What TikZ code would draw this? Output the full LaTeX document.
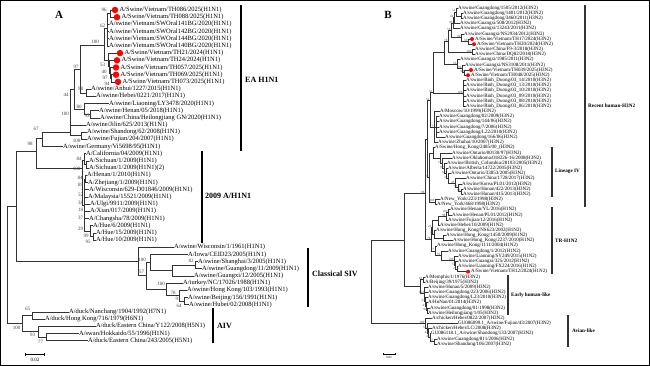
\documentclass[tikz,border=0pt]{standalone}
\usepackage{fontspec}
\setmainfont{Liberation Serif}
\usetikzlibrary{arrows.meta, positioning}

\begin{document}
\begin{tikzpicture}[
    x=1pt, y=-1pt,
    leaf/.style={anchor=west, inner sep=0pt, font=\fontsize{6.5}{7}\selectfont},
    leafb/.style={anchor=west, inner sep=0pt, font=\fontsize{5}{5}\selectfont},
    vdot/.style={circle, fill=red, inner sep=0pt, minimum size=6.5pt},
    vdotb/.style={circle, fill=red, inner sep=0pt, minimum size=4pt},
    bs/.style={inner sep=0pt, font=\fontsize{5}{5}\selectfont, text=black!75},
    bsb/.style={inner sep=0pt, yshift=1pt, font=\fontsize{3.2}{3.2}\selectfont, text=black!75},
    br/.style={draw=black!80, line width=0.7pt},
    brb/.style={draw=black!80, line width=0.45pt},
    clade/.style={draw=black, line width=1.6pt},
    cladeb/.style={draw=black!80, line width=1.1pt},
    cladelbl/.style={anchor=west, inner sep=0pt, font=\fontsize{8}{9}\selectfont\bfseries},
    cladelblb/.style={anchor=west, inner sep=0pt, font=\fontsize{5.2}{6}\selectfont\bfseries},
    panel/.style={inner sep=0pt, font=\fontsize{11}{12}\selectfont\bfseries}
]
    \useasboundingbox (0,0) rectangle (650,366);
    \draw[line width=0.8pt] (0.5,0.5) rectangle (649.5,365.5);

    % ---------- panel A ----------
    \node[panel] (pA) at (59,15) {A};

    % EA H1N1 leaves
    \node[vdot] (d1) at (115,10) {};
    \node[leaf, right=1pt of d1] (l1) {A/Swine/Vietnam/TH086/2025(H1N1)};
    \node[vdot] (d2) at (117,17.2) {};
    \node[leaf, right=1pt of d2] (l2) {A/Swine/Vietnam/TH088/2025(H1N1)};
    \node[leaf] (l3) at (109,24.4) {A/swine/Vietnam/SWOral141BG/2020(H1N1)};
    \node[leaf] (l4) at (109,31.6) {A/swine/Vietnam/SWOral142BG/2020(H1N1)};
    \node[leaf] (l5) at (109,38.8) {A/swine/Vietnam/SWOral144BG/2020(H1N1)};
    \node[leaf] (l6) at (109,46.0) {A/swine/Vietnam/SWOral140BG/2020(H1N1)};
    \node[vdot] (d7) at (120,53.1) {};
    \node[leaf, right=1pt of d7] (l7) {A/Swine/Vietnam/TH21/2024(H1N1)};
    \node[vdot] (d8) at (117,60.3) {};
    \node[leaf, right=1pt of d8] (l8) {A/Swine/Vietnam/TH24/2024(H1N1)};
    \node[vdot] (d9) at (116,67.5) {};
    \node[leaf, right=1pt of d9] (l9) {A/Swine/Vietnam/TH057/2025(H1N1)};
    \node[vdot] (d10) at (116,74.7) {};
    \node[leaf, right=1pt of d10] (l10) {A/Swine/Vietnam/TH069/2025(H1N1)};
    \node[vdot] (d11) at (118,81.9) {};
    \node[leaf, right=1pt of d11] (l11) {A/Swine/Vietnam/TH073/2025(H1N1)};
    \node[leaf] (l12) at (91,89.1) {A/swine/Anhui/1227/2015(H1N1)};
    \node[leaf] (l13) at (96,96.3) {A/swine/Hebei/0221/2017(H1N1)};
    \node[leaf] (l14) at (109,103.5) {A/swine/Liaoning/LY3478/2020(H1N1)};
    \node[leaf] (l15) at (99,110.7) {A/swine/Henan/05/2018(H1N1)};
    \node[leaf] (l16) at (100,117.9) {A/swine/China/Heilongjiang GN/2020(H1N1)};
    \node[leaf] (l17) at (86,125.0) {A/swine/Jilin/625/2013(H1N1)};
    \node[leaf] (l18) at (87,132.2) {A/swine/Shandong/62/2008(H1N1)};
    \node[leaf] (l19) at (87,139.4) {A/swine/Fujian/204/2007(H1N1)};
    \node[leaf] (l20) at (63,146.6) {A/swine/Germany/Vi5698/95(H1N1)};

    % 2009 A/H1N1 leaves
    \node[leaf] (l21) at (86,153.8) {A/California/04/2009(H1N1)};
    \node[leaf] (l22) at (89,161.0) {A/Sichuan/1/2009(H1N1)};
    \node[leaf] (l23) at (89,168.2) {A/Sichuan/1/2009(H1N1)(2)};
    \node[leaf] (l24) at (87,175.4) {A/Henan/1/2010(H1N1)};
    \node[leaf] (l25) at (88,182.6) {A/Zhejiang/1/2009(H1N1)};
    \node[leaf] (l26) at (89,189.8) {A/Wisconsin/629-D01846/2009(H1N1)};
    \node[leaf] (l27) at (88,196.9) {A/Malaysia/15521/2009(H1N1)};
    \node[leaf] (l28) at (90,204.1) {A/Ulgi/9911/2009(H1N1)};
    \node[leaf] (l29) at (90,211.3) {A/Xian/017/2009(H1N1)};
    \node[leaf] (l30) at (89,218.5) {A/Changsha/78/2009(H1N1)};
    \node[leaf] (l31) at (93,225.7) {A/Hue/6/2009(H1N1)};
    \node[leaf] (l32) at (96,232.9) {A/Hue/15/2009(H1N1)};
    \node[leaf] (l33) at (96,240.1) {A/Hue/10/2009(H1N1)};

    % classical SIV leaves
    \node[leaf] (l34) at (174,247.3) {A/swine/Wisconsin/1/1961(H1N1)};
    \node[leaf] (l35) at (188,254.5) {A/Iowa/CEID23/2005(H1N1)};
    \node[leaf] (l36) at (198,261.7) {A/swine/Shanghai/3/2005(H1N1)};
    \node[leaf] (l37) at (202,268.8) {A/swine/Guangdong/11/2009(H1N1)};
    \node[leaf] (l38) at (194,276.0) {A/swine/Guangxi/12/2005(H1N1)};
    \node[leaf] (l39) at (183,283.2) {A/turkey/NC/17026/1988(H1N1)};
    \node[leaf] (l40) at (187,290.4) {A/swine/Hong Kong/103/1993(H1N1)};
    \node[leaf] (l41) at (188,297.6) {A/swine/Beijing/156/1991(H1N1)};
    \node[leaf] (l42) at (189,304.8) {A/swine/Hubei/02/2008(H1N1)};

    % AIV leaves
    \node[leaf] (l43) at (69,312.0) {A/duck/Nanchang/1904/1992(H7N1)};
    \node[leaf] (l44) at (45,319.2) {A/duck/Hong Kong/716/1979(H6N1)};
    \node[leaf] (l45) at (96,326.4) {A/duck/Eastern China/Y122/2008(H5N1)};
    \node[leaf] (l46) at (79,333.6) {A/swan/Hokkaido/55/1996(H1N1)};
    \node[leaf] (l47) at (88,340.7) {A/duck/Eastern China/243/2005(H5N1)};

    % internal nodes A
    \coordinate (v12) at (110,13.6);
    \coordinate (v62) at (107.5,28);
    \coordinate (vb1) at (111.5,78.3);
    \coordinate (vb2) at (110.5,72.9);
    \coordinate (vb3) at (109.5,66.6);
    \coordinate (vb4) at (108.5,59.9);
    \coordinate (vA) at (104,45);
    \coordinate (n98a) at (86,93.4);
    \coordinate (n97) at (80,69);
    \coordinate (n93) at (90,114.3);
    \coordinate (n80) at (84,109);
    \coordinate (n44) at (74,89);
    \coordinate (n100c) at (81,135.8);
    \coordinate (nEA) at (70,132);
    \coordinate (n67) at (42,138);
    \coordinate (h1) at (86.5,164.6);
    \coordinate (h2) at (84.5,160);
    \coordinate (hz) at (85.5,179);
    \coordinate (hue2) at (93,236.5);
    \coordinate (hue1) at (90,231);
    \coordinate (h3) at (84,205);
    \coordinate (n2009) at (82,168);
    \coordinate (n98) at (36,151);
    \coordinate (nc82) at (195,265.2);
    \coordinate (nc3) at (172,270);
    \coordinate (nc100a) at (150,262);
    \coordinate (n64) at (184,301.2);
    \coordinate (n91) at (179,295.5);
    \coordinate (n100t) at (166,289);
    \coordinate (nc57) at (146,275);
    \coordinate (nCl) at (138,261.3);
    \coordinate (n65) at (32,315.6);
    \coordinate (n77) at (46,337.2);
    \coordinate (n93b) at (38,331);
    \coordinate (nAIV) at (22,323.4);
    \coordinate (nTop) at (16,206);
    \coordinate (nRoot) at (7,265);

    % branches A
    \draw[br] (v12) |- (d1) (v12) |- (d2);
    \draw[br] (v62) |- (v12) (v62) |- (l3) (v62) |- (l4) (v62) |- (l5) (v62) |- (l6);
    \draw[br] (vb1) |- (d10) (vb1) |- (d11);
    \draw[br] (vb2) |- (d9) (vb2) |- (vb1);
    \draw[br] (vb3) |- (d8) (vb3) |- (vb2);
    \draw[br] (vb4) |- (d7) (vb4) |- (vb3);
    \draw[br] (vA) |- (v62) (vA) |- (vb4);
    \draw[br] (n98a) |- (l12) (n98a) |- (l13);
    \draw[br] (n97) |- (vA) (n97) |- (n98a);
    \draw[br] (n93) |- (l15) (n93) |- (l16);
    \draw[br] (n80) |- (l14) (n80) |- (n93);
    \draw[br] (n44) |- (n97) (n44) |- (n80);
    \draw[br] (n100c) |- (l18) (n100c) |- (l19);
    \draw[br] (nEA) |- (n44) (nEA) |- (l17) (nEA) |- (n100c);
    \draw[br] (n67) |- (nEA) (n67) |- (l20);
    \draw[br] (h1) |- (l22) (h1) |- (l23);
    \draw[br] (h2) |- (l21) (h2) |- (h1);
    \draw[br] (hz) |- (l24) (hz) |- (l25);
    \draw[br] (hue2) |- (l32) (hue2) |- (l33);
    \draw[br] (hue1) |- (l31) (hue1) |- (hue2);
    \draw[br] (h3) |- (hz) (h3) |- (l26) (h3) |- (l27) (h3) |- (l28) (h3) |- (l29) (h3) |- (l30) (h3) |- (hue1);
    \draw[br] (n2009) |- (h2) (n2009) |- (h3);
    \draw[br] (n98) |- (n67) (n98) |- (n2009);
    \draw[br] (nc82) |- (l36) (nc82) |- (l37);
    \draw[br] (nc3) |- (nc82) (nc3) |- (l38);
    \draw[br] (nc100a) |- (l35) (nc100a) |- (nc3);
    \draw[br] (n64) |- (l41) (n64) |- (l42);
    \draw[br] (n91) |- (l40) (n91) |- (n64);
    \draw[br] (n100t) |- (l39) (n100t) |- (n91);
    \draw[br] (nc57) |- (nc100a) (nc57) |- (n100t);
    \draw[br] (nCl) |- (l34) (nCl) |- (nc57);
    \draw[br] (n65) |- (l43) (n65) |- (l44);
    \draw[br] (n77) |- (l46) (n77) |- (l47);
    \draw[br] (n93b) |- (l45) (n93b) |- (n77);
    \draw[br] (nAIV) |- (n65) (nAIV) |- (n93b);
    \draw[br] (nTop) |- (n98) (nTop) |- (nCl);
    \draw[br] (nRoot) |- (nTop) (nRoot) |- (nAIV);

    % bootstrap A
    \node[bs] (ba1) at (104,10) {96};
    \node[bs] (ba2) at (102.5,26) {62};
    \node[bs] (ba3) at (95,42) {100};
    \node[bs] (ba4) at (102.5,65) {53};
    \node[bs] (ba5) at (104,72) {40};
    \node[bs] (ba6) at (105,78) {97};
    \node[bs] (ba7) at (107,84) {94};
    \node[bs] (ba8) at (76,67) {97};
    \node[bs] (ba9) at (80.5,89) {98};
    \node[bs] (ba10) at (66,95) {44};
    \node[bs] (ba11) at (79,106.5) {80};
    \node[bs] (ba12) at (87.2,115.8) {93};
    \node[bs] (ba13) at (65,114) {100};
    \node[bs] (ba14) at (76.5,140.6) {100};
    \node[bs] (ba15) at (36,129) {67};
    \node[bs] (ba16) at (30,144) {98};
    \node[bs] (ba17) at (79,158.5) {84};
    \node[bs] (ba18) at (76.5,168.5) {100};
    \node[bs] (ba19) at (80,177.5) {84};
    \node[bs] (ba20) at (80.5,185) {89};
    \node[bs] (ba21) at (80.5,195) {52};
    \node[bs] (ba22) at (80.5,202.5) {38};
    \node[bs] (ba23) at (80.5,210) {18};
    \node[bs] (ba24) at (80.5,218) {37};
    \node[bs] (ba25) at (80.5,229) {29};
    \node[bs] (ba26) at (86,235.5) {99};
    \node[bs] (ba27) at (88,242) {95};
    \node[bs] (ba28) at (142,260) {100};
    \node[bs] (ba29) at (191,261) {82};
    \node[bs] (ba30) at (141.5,272) {57};
    \node[bs] (ba31) at (161,284) {100};
    \node[bs] (ba32) at (173,293) {78};
    \node[bs] (ba33) at (178,299) {91};
    \node[bs] (ba34) at (179,305.5) {64};
    \node[bs] (ba35) at (27.5,308.5) {65};
    \node[bs] (ba36) at (16.5,327.5) {100};
    \node[bs] (ba37) at (32.5,335) {93};
    \node[bs] (ba38) at (40.5,341.5) {77};

    % clade bars A
    \coordinate (eaT) at (241,5);
    \coordinate (eaB) at (241,151);
    \draw[clade] (eaT) -- (eaB);
    \node[cladelbl] (eaL) at (245,80) {EA H1N1};
    \coordinate (pdmT) at (202,151);
    \coordinate (pdmB) at (202,243);
    \draw[clade] (pdmT) -- (pdmB);
    \node[cladelbl] (pdmL) at (205,196) {2009 A/H1N1};
    \coordinate (clT) at (308,248);
    \coordinate (clB) at (308,307);
    \draw[clade] (clT) -- (clB);
    \node[cladelbl] (clL) at (312,274) {Classical SIV};
    \coordinate (aivT) at (213,308);
    \coordinate (aivB) at (213,343);
    \draw[clade] (aivT) -- (aivB);
    \node[cladelbl] (aivL) at (217,326) {AIV};

    % scale A
    \coordinate (sa1) at (25,354);
    \coordinate (sa2) at (45,354);
    \draw[line width=0.6pt, {Bar[width=3pt]}-{Bar[width=3pt]}] (sa1) -- (sa2);
    \node[bs, text=black] (saL) at (35,360) {0.02};

    % ---------- panel B ----------
    \node[panel] (pB) at (388,15) {B};

    % recent human-like H3N2
    \node[leafb] (b1) at (458,8.0) {A/swine/Guangdong/1505/2012(H3N2)};
    \node[leafb] (b2) at (463,13.2) {A/swine/Guangdong/1401/2012(H3N2)};
    \node[leafb] (b3) at (463,18.3) {A/swine/Guangdong/3460/2011(H3N2)};
    \node[leafb] (b4) at (460,23.5) {A/swine/Guangxi/508/2012(H3N2)};
    \node[leafb] (b5) at (460,28.7) {A/swine/Guangxi/13243/2011(H3N2)};
    \node[leafb] (b6) at (464,33.9) {A/swine/Guangxi/NS2934/2012(H3N2)};
    \node[vdotb] (e7) at (472,39.0) {};
    \node[leafb, right=0.8pt of e7] (b7) {A/Swine/Vietnam/TH17/2024(H3N2)};
    \node[vdotb] (e8) at (474,44.2) {};
    \node[leafb, right=0.8pt of e8] (b8) {A/Swine/Vietnam/TH20/2024(H3N2)};
    \node[leafb] (b9) at (475,49.4) {A/swine/China/F9-3/2018(H3N2)};
    \node[leafb] (b10) at (475,54.5) {A/swine/China/DQ82/2018(H3N2)};
    \node[leafb] (b11) at (460,59.7) {A/swine/Guangxi/1985/2011(H3N2)};
    \node[leafb] (b12) at (465,64.9) {A/swine/Guangxi/NS3108/2011(H3N2)};
    \node[vdotb] (e13) at (471,70.0) {};
    \node[leafb, right=0.8pt of e13] (b13) {A/Swine/Vietnam/TH039/2025(H3N2)};
    \node[vdotb] (e14) at (468,75.2) {};
    \node[leafb, right=0.8pt of e14] (b14) {A/Swine/Vietnam/TH048/2025(H3N2)};
    \node[leafb] (b15) at (466,80.4) {A/swine/Binh\_Duong/03\_14/2010(H3N2)};
    \node[leafb] (b16) at (466,85.6) {A/swine/Binh\_Duong/03\_13/2010(H3N2)};
    \node[leafb] (b17) at (466,90.7) {A/swine/Binh\_Duong/03\_10/2010(H3N2)};
    \node[leafb] (b18) at (466,95.9) {A/swine/Binh\_Duong/03\_09/2010(H3N2)};
    \node[leafb] (b19) at (466,101.1) {A/swine/Binh\_Duong/03\_08/2010(H3N2)};
    \node[leafb] (b20) at (466,106.2) {A/swine/Binh\_Duong/03\_06/2010(H3N2)};
    \node[leafb] (b21) at (440,111.4) {A/Moscow/10/1999(H3N2)};
    \node[leafb] (b22) at (439,116.6) {A/swine/Guangdong/02/2009(H3N2)};
    \node[leafb] (b23) at (439,121.7) {A/swine/Guangdong/144/06(H3N2)};
    \node[leafb] (b24) at (439,126.9) {A/swine/Guangdong/7/2006(H3N2)};
    \node[leafb] (b25) at (439,132.1) {A/swine/Guangdong/L22/2010(H3N2)};
    \node[leafb] (b26) at (445,137.3) {A/swine/Guangdong/166/06(H3N2)};
    \node[leafb] (b27) at (438,142.4) {A/swine/Zhuhai/10/2007(H3N2)};

    % lineage IV
    \node[leafb] (b28) at (435,147.6) {A/Swine/Hong\_Kong/2485/00\_(H3N2)};
    \node[leafb] (b29) at (452,152.8) {A/swine/Ontario/00130/97(H3N2)};
    \node[leafb] (b30) at (452,157.9) {A/swine/Oklahoma/018226-16/2008(H3N2)};
    \node[leafb] (b31) at (447,163.1) {A/swine/British\_Columbia/28103/2005(H3N2)};
    \node[leafb] (b32) at (448,168.3) {A/swine/Alberta/14722/2005(H3N2)};
    \node[leafb] (b33) at (451,173.4) {A/swine/Ontario/33853/2005(H3N2)};
    \node[leafb] (b34) at (466,178.6) {A/swine/China/1728/2017(H3N2)};
    \node[leafb] (b35) at (462,183.8) {A/swine/Korea/PL01/2012(H3N2)};
    \node[leafb] (b36) at (463,189.0) {A/swine/Hunan/422/2013(H3N2)};
    \node[leafb] (b37) at (463,194.1) {A/swine/Hunan/415/2013(H3N2)};
    \node[leafb] (b38) at (440,199.3) {A/New\_York/223/1998(H3N2)};
    \node[leafb] (b39) at (437,204.5) {A/New\_York/468/1998(H3N2)};

    % TR-H1N2
    \node[leafb] (b40) at (450,209.6) {A/swine/Henan/YL/2016(H1N2)};
    \node[leafb] (b41) at (452,214.8) {A/swine/Henan/PL01/2012(H1N2)};
    \node[leafb] (b42) at (448,220.0) {A/swine/Fujian/12/2016(H1N2)};
    \node[leafb] (b43) at (440,225.1) {A/swine/Hebei/10/2009(H1N2)};
    \node[leafb] (b44) at (436,230.3) {A/swine/Hong\_Kong/NS623/2002(H1N2)};
    \node[leafb] (b45) at (446,235.5) {A/swine/Hong\_Kong/1450/2009(H1N2)};
    \node[leafb] (b46) at (453,240.7) {A/swine/Hong\_Kong/2237/2010(H1N2)};
    \node[leafb] (b47) at (437,245.8) {A/swine/Hong\_Kong/1111/2004(H1N2)};
    \node[leafb] (b48) at (448,251.0) {A/swine/Guangdong/1/2012(H1N2)};
    \node[leafb] (b49) at (458,256.2) {A/swine/Liaoning/SY249/2015(H1N2)};
    \node[leafb] (b50) at (458,261.3) {A/swine/Guangxi/325/2012(H1N2)};
    \node[leafb] (b51) at (458,266.5) {A/swine/Liaoning/FX224/2016(H1N2)};
    \node[vdotb] (e52) at (468,271.7) {};
    \node[leafb, right=0.8pt of e52] (b52) {A/Swine/Vietnam/TH12/2024(H1N2)};

    % early human-like
    \node[leafb] (b53) at (425,276.8) {A/Memphis/1/1976(H3N2)};
    \node[leafb] (b54) at (425,282.0) {A/Beijing/39/1975(H3N2)};
    \node[leafb] (b55) at (428,287.2) {A/swine/Hunan/5/2009(H3N2)};
    \node[leafb] (b56) at (428,292.4) {A/swine/Guangdong/223/2006(H3N2)};
    \node[leafb] (b57) at (428,297.5) {A/swine/Guangdong/L23/2010(H3N2)};
    \node[leafb] (b58) at (428,302.7) {A/HuNan/01/2014(H3N2)};
    \node[leafb] (b59) at (430,307.9) {A/swine/Guangdong/01/1998(H3N2)};
    \node[leafb] (b60) at (428,313.0) {A/swine/Heilongjiang/1/05(H3N2)};

    % avian-like
    \node[leafb] (b61) at (432,318.2) {A/chicken/Hebei/0822/2007(H3N2)};
    \node[leafb] (b62) at (458,323.4) {GU086099.1\_A/swine/Fujian/43/2007(H3N2)};
    \node[leafb] (b63) at (432,328.5) {A/chicken/Hebei/LC/2008(H3N2)};
    \node[leafb] (b64) at (431,333.7) {GU086118.1\_A/swine/Shandong/133/2007(H3N2)};
    \node[leafb] (b65) at (437,338.9) {A/swine/Guangdong/811/2006(H3N2)};
    \node[leafb] (b66) at (437,344.1) {A/swine/Shandong/106/2007(H3N2)};

    % internal nodes B
    \coordinate (q23) at (461,15.8);
    \coordinate (q123) at (456,11.9);
    \coordinate (q1234) at (454,17.7);
    \coordinate (q15) at (453,23.2);
    \coordinate (qv1) at (468,41.6);
    \coordinate (qv2) at (461,37.7);
    \coordinate (q18) at (451,30.4);
    \coordinate (qcn) at (472,52.0);
    \coordinate (q110) at (448,41.2);
    \coordinate (qv3) at (464.5,72.6);
    \coordinate (qv4) at (462,68.7);
    \coordinate (qs2) at (457,64.2);
    \coordinate (qup) at (444,52.7);
    \coordinate (qbd) at (463,93.3);
    \coordinate (qrh1) at (433,92);
    \coordinate (qgd) at (436,127);
    \coordinate (qrh2) at (434,127);
    \coordinate (qrh) at (430,100);
    \coordinate (qL1) at (461,191.5);
    \coordinate (qL2) at (458,187.6);
    \coordinate (qL3) at (455,183);
    \coordinate (qL4) at (448,178);
    \coordinate (qL5) at (446,173);
    \coordinate (qL6) at (444,168);
    \coordinate (qL7) at (442,163);
    \coordinate (qL8) at (440,158);
    \coordinate (qL9) at (433,153);
    \coordinate (qny) at (435,201.9);
    \coordinate (qL10) at (429,177);
    \coordinate (qrl) at (427,139);
    \coordinate (qt1) at (448,212.2);
    \coordinate (qt2) at (446,216);
    \coordinate (qt3) at (438,220.5);
    \coordinate (qhk1) at (443,238);
    \coordinate (qhk2) at (434,234);
    \coordinate (qt4) at (432,227);
    \coordinate (qln1) at (457,269);
    \coordinate (qln2) at (455.5,265);
    \coordinate (qln3) at (454,260.5);
    \coordinate (qgd1) at (441,255.7);
    \coordinate (qt5) at (435,250.8);
    \coordinate (qt6) at (431,239);
    \coordinate (qhl) at (425,193);
    \coordinate (qe1) at (423,279.4);
    \coordinate (qe3) at (427.5,310.5);
    \coordinate (qe4) at (426.5,306);
    \coordinate (qe5) at (425.5,301.5);
    \coordinate (qe6) at (424.5,293);
    \coordinate (qe) at (420,286);
    \coordinate (q404) at (404,240);
    \coordinate (qa1) at (434,341.5);
    \coordinate (qa2) at (430,337);
    \coordinate (qa3) at (428.5,333);
    \coordinate (qa4) at (427,328);
    \coordinate (qa5) at (425,323);
    \coordinate (qroot) at (371,280);

    % branches B
    \draw[brb] (q23) |- (b2) (q23) |- (b3);
    \draw[brb] (q123) |- (b1) (q123) |- (q23);
    \draw[brb] (q1234) |- (q123) (q1234) |- (b4);
    \draw[brb] (q15) |- (q1234) (q15) |- (b5);
    \draw[brb] (qv1) |- (e7) (qv1) |- (e8);
    \draw[brb] (qv2) |- (b6) (qv2) |- (qv1);
    \draw[brb] (q18) |- (q15) (q18) |- (qv2);
    \draw[brb] (qcn) |- (b9) (qcn) |- (b10);
    \draw[brb] (q110) |- (q18) (q110) |- (qcn);
    \draw[brb] (qv3) |- (e13) (qv3) |- (e14);
    \draw[brb] (qv4) |- (b12) (qv4) |- (qv3);
    \draw[brb] (qs2) |- (b11) (qs2) |- (qv4);
    \draw[brb] (qup) |- (q110) (qup) |- (qs2);
    \draw[brb] (qbd) |- (b15) (qbd) |- (b16) (qbd) |- (b17) (qbd) |- (b18) (qbd) |- (b19) (qbd) |- (b20);
    \draw[brb] (qrh1) |- (qup) (qrh1) |- (qbd);
    \draw[brb] (qgd) |- (b22) (qgd) |- (b23) (qgd) |- (b24) (qgd) |- (b25) (qgd) |- (b26);
    \draw[brb] (qrh2) |- (b21) (qrh2) |- (qgd) (qrh2) |- (b27);
    \draw[brb] (qrh) |- (qrh1) (qrh) |- (qrh2);
    \draw[brb] (qL1) |- (b36) (qL1) |- (b37);
    \draw[brb] (qL2) |- (b35) (qL2) |- (qL1);
    \draw[brb] (qL3) |- (b34) (qL3) |- (qL2);
    \draw[brb] (qL4) |- (b33) (qL4) |- (qL3);
    \draw[brb] (qL5) |- (b32) (qL5) |- (qL4);
    \draw[brb] (qL6) |- (b31) (qL6) |- (qL5);
    \draw[brb] (qL7) |- (b30) (qL7) |- (qL6);
    \draw[brb] (qL8) |- (b29) (qL8) |- (qL7);
    \draw[brb] (qL9) |- (b28) (qL9) |- (qL8);
    \draw[brb] (qny) |- (b38) (qny) |- (b39);
    \draw[brb] (qL10) |- (qL9) (qL10) |- (qny);
    \draw[brb] (qrl) |- (qrh) (qrl) |- (qL10);
    \draw[brb] (qt1) |- (b40) (qt1) |- (b41);
    \draw[brb] (qt2) |- (qt1) (qt2) |- (b42);
    \draw[brb] (qt3) |- (qt2) (qt3) |- (b43);
    \draw[brb] (qhk1) |- (b45) (qhk1) |- (b46);
    \draw[brb] (qhk2) |- (b44) (qhk2) |- (qhk1);
    \draw[brb] (qt4) |- (qt3) (qt4) |- (qhk2);
    \draw[brb] (qln1) |- (b51) (qln1) |- (e52);
    \draw[brb] (qln2) |- (b50) (qln2) |- (qln1);
    \draw[brb] (qln3) |- (b49) (qln3) |- (qln2);
    \draw[brb] (qgd1) |- (b48) (qgd1) |- (qln3);
    \draw[brb] (qt5) |- (b47) (qt5) |- (qgd1);
    \draw[brb] (qt6) |- (qt4) (qt6) |- (qt5);
    \draw[brb] (qhl) |- (qrl) (qhl) |- (qt6);
    \draw[brb] (qe1) |- (b53) (qe1) |- (b54);
    \draw[brb] (qe3) |- (b59) (qe3) |- (b60);
    \draw[brb] (qe4) |- (b58) (qe4) |- (qe3);
    \draw[brb] (qe5) |- (b57) (qe5) |- (qe4);
    \draw[brb] (qe6) |- (b55) (qe6) |- (b56) (qe6) |- (qe5);
    \draw[brb] (qe) |- (qe1) (qe) |- (qe6);
    \draw[brb] (q404) |- (qhl) (q404) |- (qe);
    \draw[brb] (qa1) |- (b65) (qa1) |- (b66);
    \draw[brb] (qa2) |- (b64) (qa2) |- (qa1);
    \draw[brb] (qa3) |- (b63) (qa3) |- (qa2);
    \draw[brb] (qa4) |- (b62) (qa4) |- (qa3);
    \draw[brb] (qa5) |- (b61) (qa5) |- (qa4);
    \draw[brb] (qroot) |- (q404) (qroot) |- (qa5);

    % bootstrap B
    \node[bsb, left=0.4pt of q123] (bb1) {52};
    \node[bsb, left=0.4pt of q1234] (bb2) {41};
    \node[bsb, left=0.4pt of q15] (bb3) {49};
    \node[bsb, left=0.4pt of q18] (bb4) {56};
    \node[bsb, left=0.4pt of qv2] (bb5) {90};
    \node[bsb, left=0.4pt of qv1] (bb6) {59};
    \node[bsb, left=0.4pt of qcn] (bb7) {100};
    \node[bsb, left=0.4pt of q110] (bb8) {78};
    \node[bsb, left=0.4pt of qv4] (bb9) {96};
    \node[bsb, left=0.4pt of qv3] (bb10) {93};
    \node[bsb, left=0.4pt of qs2] (bb11) {56};
    \node[bsb, left=0.4pt of qbd] (bb12) {100};
    \node[bsb, left=0.4pt of qrh1] (bb13) {47};
    \node[bsb, left=0.4pt of qgd] (bb14) {73};
    \node[bsb, left=0.4pt of qrh] (bb15) {51};
    \node[bsb, left=0.4pt of qL1] (bb16) {93};
    \node[bsb, left=0.4pt of qL2] (bb17) {55};
    \node[bsb, left=0.4pt of qL3] (bb18) {45};
    \node[bsb, left=0.4pt of qL4] (bb19) {39};
    \node[bsb, left=0.4pt of qL5] (bb20) {67};
    \node[bsb, left=0.4pt of qL6] (bb21) {99};
    \node[bsb, left=0.4pt of qL7] (bb22) {58};
    \node[bsb, left=0.4pt of qny] (bb23) {100};
    \node[bsb, left=0.4pt of qL10] (bb24) {98};
    \node[bsb, left=0.4pt of qt1] (bb25) {100};
    \node[bsb, left=0.4pt of qt2] (bb26) {98};
    \node[bsb, left=0.4pt of qhk2] (bb27) {33};
    \node[bsb, left=0.4pt of qt4] (bb28) {22};
    \node[bsb, left=0.4pt of qt5] (bb29) {77};
    \node[bsb, left=0.4pt of qt6] (bb30) {78};
    \node[bsb, left=0.4pt of qgd1] (bb31) {91};
    \node[bsb, left=0.4pt of qln3] (bb32) {100};
    \node[bsb, left=0.4pt of qln2] (bb33) {72};
    \node[bsb, left=0.4pt of qln1] (bb34) {22};
    \node[bsb, left=0.4pt of qhl] (bb35) {98};
    \node[bsb, left=0.4pt of qe1] (bb36) {81};
    \node[bsb, left=0.4pt of qe6] (bb37) {100};
    \node[bsb, left=0.4pt of qe5] (bb38) {54};
    \node[bsb, left=0.4pt of qe4] (bb39) {41};
    \node[bsb, left=0.4pt of qe3] (bb40) {98};
    \node[bsb, left=0.4pt of qa5] (bb41) {100};
    \node[bsb, left=0.4pt of qa4] (bb42) {53};
    \node[bsb, left=0.4pt of qa3] (bb43) {47};
    \node[bsb, left=0.4pt of qa2] (bb44) {40};
    \node[bsb, left=0.4pt of qa1] (bb45) {57};

    % clade bars B
    \coordinate (rhT) at (585,5);
    \coordinate (rhB) at (585,207);
    \draw[cladeb] (rhT) -- (rhB);
    \node[cladelblb] (rhL) at (588,106) {Recent human-H3N2};
    \coordinate (livT) at (552,147);
    \coordinate (livB) at (552,197);
    \draw[cladeb] (livT) -- (livB);
    \node[cladelblb] (livL) at (555,171) {Lineage IV};
    \coordinate (trT) at (552,207);
    \coordinate (trB) at (552,274);
    \draw[cladeb] (trT) -- (trB);
    \node[cladelblb] (trL) at (555,241) {TR-H1N2};
    \coordinate (ehT) at (508,275);
    \coordinate (ehB) at (508,315);
    \draw[cladeb] (ehT) -- (ehB);
    \node[cladelblb] (ehL) at (511,295) {Early human-like};
    \coordinate (avT) at (568,315);
    \coordinate (avB) at (568,347);
    \draw[cladeb] (avT) -- (avB);
    \node[cladelblb] (avL) at (572,331) {Avian-like};

    % scale B
    \coordinate (sb1) at (383,354);
    \coordinate (sb2) at (395,354);
    \draw[line width=0.5pt, {Bar[width=2.5pt]}-{Bar[width=2.5pt]}] (sb1) -- (sb2);
    \node[bsb, text=black] (sbL) at (389,358.5) {0.02};
\end{tikzpicture}
\end{document}
